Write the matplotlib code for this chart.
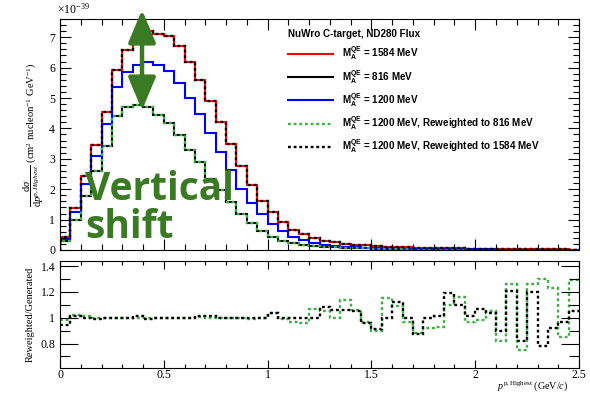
""" NuWro C-target cross section vs leading proton momentum, with reweighting ratio """
import numpy as np
import matplotlib
matplotlib.use("Agg")
import matplotlib.pyplot as plt
from matplotlib.ticker import MultipleLocator

# Bin edges in p^{p,Highest} (GeV/c): 50 bins of 0.05
bin_edges = np.linspace(0.0, 2.5, 51)

# dsigma/dp in units of 1e-39 cm^2 / nucleon / GeV
ma_1584 = [0.44, 1.38, 2.42, 3.47, 4.55, 5.93, 6.57, 6.92, 7.19, 7.10,
           7.03, 6.70, 6.20, 5.58, 4.90, 4.20, 3.50, 2.76, 2.15, 1.60,
           1.24, 0.91, 0.67, 0.52, 0.40, 0.30, 0.25, 0.21, 0.18, 0.15,
           0.13, 0.11, 0.10, 0.09, 0.08, 0.07, 0.06, 0.055, 0.05, 0.045,
           0.04, 0.035, 0.03, 0.03, 0.025, 0.025, 0.02, 0.02, 0.02, 0.015]
ma_816 = [0.31, 1.00, 1.76, 2.60, 3.43, 4.42, 4.70, 4.78, 4.70, 4.45,
          4.17, 3.78, 3.30, 2.88, 2.35, 1.97, 1.59, 1.20, 0.88, 0.62,
          0.44, 0.31, 0.24, 0.18, 0.14, 0.11, 0.09, 0.07, 0.06, 0.05,
          0.045, 0.04, 0.035, 0.03, 0.027, 0.024, 0.021, 0.019, 0.017, 0.015,
          0.013, 0.012, 0.011, 0.01, 0.009, 0.008, 0.007, 0.007, 0.006, 0.006]
ma_1200 = [0.35, 1.24, 2.16, 3.10, 4.13, 5.35, 5.86, 6.07, 6.17, 6.10,
           5.90, 5.48, 5.00, 4.47, 3.84, 3.21, 2.63, 2.02, 1.54, 1.18,
           0.84, 0.61, 0.44, 0.32, 0.24, 0.18, 0.14, 0.11, 0.09, 0.08,
           0.07, 0.06, 0.05, 0.045, 0.04, 0.035, 0.03, 0.028, 0.025, 0.022,
           0.02, 0.018, 0.016, 0.015, 0.013, 0.012, 0.011, 0.01, 0.01, 0.009]
# reweighted 1200 MeV samples (on top of the generated ones)
rw_to_816 = list(ma_816)
rw_to_1584 = list(ma_1584)

# Reweighted / Generated
ratio_816 = [0.98, 1.02, 1.015, 1.00, 1.00, 1.00, 1.00, 1.00, 1.00, 1.00,
             0.995, 1.00, 1.00, 1.005, 1.00, 1.00, 0.995, 0.995, 0.99, 0.995,
             1.035, 0.99, 0.97, 0.96, 1.07, 1.05, 1.00, 1.14, 1.06, 0.97,
             0.90, 1.15, 1.09, 0.97, 0.88, 0.92, 0.93, 1.10, 1.16, 0.97,
             0.98, 1.05, 0.82, 1.26, 0.75, 1.26, 1.30, 1.23, 0.85, 1.29]
ratio_1584 = [0.94, 1.01, 1.00, 0.99, 1.00, 1.00, 1.00, 1.01, 0.99, 1.00,
              1.00, 1.00, 1.00, 1.01, 1.01, 1.00, 1.00, 1.00, 1.00, 1.00,
              1.035, 1.00, 1.00, 1.00, 1.00, 1.08, 1.06, 1.06, 1.05, 0.96,
              0.91, 1.00, 1.12, 1.00, 0.87, 1.00, 1.01, 1.19, 1.10, 1.01,
              1.07, 1.04, 0.90, 1.21, 0.82, 1.20, 0.78, 0.92, 0.97, 1.05]

legend_labels = [r"$\mathbf{M_A^{QE}}$ = 1584 MeV",
                 r"$\mathbf{M_A^{QE}}$ = 816 MeV",
                 r"$\mathbf{M_A^{QE}}$ = 1200 MeV",
                 r"$\mathbf{M_A^{QE}}$ = 1200 MeV, Reweighted to 816 MeV",
                 r"$\mathbf{M_A^{QE}}$ = 1200 MeV, Reweighted to 1584 MeV"]

plt.rcParams["font.family"] = ["Liberation Serif", "DejaVu Serif"]
plt.rcParams["mathtext.fontset"] = "custom"
plt.rcParams["mathtext.rm"] = "Liberation Serif"
plt.rcParams["mathtext.it"] = "Liberation Serif:italic"
plt.rcParams["mathtext.bf"] = "Liberation Sans:bold"

GREEN = "#3cb043"
DOT = (0, (1.2, 1.2))

fig = plt.figure(figsize=(5.9, 3.93), dpi=100)
ax = fig.add_axes([0.1017, 0.3639, 0.8797, 0.5878])
axr = fig.add_axes([0.1017, 0.0636, 0.8797, 0.2723])

# top panel
ax.stairs(ma_1584, bin_edges, color="red", lw=1.5)
ax.stairs(ma_816, bin_edges, color="black", lw=1.5)
ax.stairs(ma_1200, bin_edges, color="blue", lw=1.5)
ax.stairs(rw_to_816, bin_edges, color=GREEN, lw=1.7, linestyle=DOT)
ax.stairs(rw_to_1584, bin_edges, color="black", lw=1.7, linestyle=DOT)

handles = [plt.Line2D([], [], color="red", lw=1.5),
           plt.Line2D([], [], color="black", lw=1.5),
           plt.Line2D([], [], color="blue", lw=1.5),
           plt.Line2D([], [], color=GREEN, lw=1.7, linestyle=DOT),
           plt.Line2D([], [], color="black", lw=1.7, linestyle=DOT)]
leg = ax.legend(handles, legend_labels, loc="upper left", bbox_to_anchor=(0.425, 0.99),
                frameon=False, title="NuWro C-target, ND280 Flux", alignment="left",
                prop={"family": "Liberation Sans", "weight": "bold", "size": 7.1},
                title_fontproperties={"family": "Liberation Sans", "weight": "bold", "size": 7.1},
                handlelength=4.5, handletextpad=0.95, labelspacing=0.55, borderpad=0.3)

ax.set_xlim(0, 2.5)
ax.set_ylim(0, 7.6)
ax.xaxis.set_major_locator(MultipleLocator(0.5))
ax.xaxis.set_minor_locator(MultipleLocator(0.1))
ax.yaxis.set_major_locator(MultipleLocator(1))
ax.yaxis.set_minor_locator(MultipleLocator(0.2))
ax.tick_params(which="both", direction="in", top=True, right=True, labelsize=8.5, labelbottom=False)
ax.tick_params(which="major", length=8, width=0.8)
ax.tick_params(which="minor", length=4, width=0.8)
ax.set_ylabel(r"$\dfrac{\mathrm{d}\sigma}{\mathrm{d}p^{p,Highest}}$ (cm$^{2}$ nucleon$^{-1}$ GeV$^{-1}$)",
              fontsize=7.6, labelpad=2)
ax.text(-0.005, 1.01, r"$\times$10$^{-39}$", transform=ax.transAxes, fontsize=8.5,
        ha="left", va="bottom")

# annotation
ax.annotate("", xy=(0.395, 4.6), xytext=(0.395, 7.9),
            arrowprops=dict(arrowstyle="<|-|>,head_length=1.0,head_width=0.42",
                            mutation_scale=20, lw=3.2, color="#3a7a22", shrinkA=0, shrinkB=0),
            annotation_clip=False)
ax.text(0.12, 1.64, "Vertical", color="#3a7a22", fontsize=28, fontweight="bold",
        family="Open Sans", va="baseline")
ax.text(0.12, 0.39, "shift", color="#3a7a22", fontsize=28, fontweight="bold",
        family="Open Sans", va="baseline")

# ratio panel
axr.stairs(ratio_816, bin_edges, color=GREEN, lw=1.7, linestyle=DOT, baseline=None)
axr.stairs(ratio_1584, bin_edges, color="black", lw=1.7, linestyle=DOT, baseline=None)
axr.set_xlim(0, 2.5)
axr.set_ylim(0.61, 1.44)
axr.xaxis.set_minor_locator(MultipleLocator(0.1))
axr.yaxis.set_minor_locator(MultipleLocator(0.1))
axr.set_yticks([0.8, 1.0, 1.2, 1.4])
axr.set_yticklabels(["0.8", "1", "1.2", "1.4"])
axr.set_xticks([0, 0.5, 1, 1.5, 2, 2.5])
axr.set_xticklabels(["0", "0.5", "1", "1.5", "2", "2.5"])
axr.tick_params(which="both", direction="in", top=True, right=True, labelsize=8.5)
axr.tick_params(which="major", length=13, width=0.8)
axr.tick_params(which="minor", length=7, width=0.8)
axr.tick_params(axis="x", which="major", length=6, pad=1)
axr.tick_params(axis="x", which="minor", length=3)
axr.set_ylabel("Reweighted/Generated", fontsize=7.5, labelpad=4)
axr.set_xlabel(r"$p^{\mathrm{p,Highest}}$ (GeV/$c$)", fontsize=7.2)
axr.xaxis.set_label_coords(0.978, -0.1, transform=axr.transAxes)
axr.xaxis.label.set_horizontalalignment("right")

fig.savefig("out.png", dpi=100)
